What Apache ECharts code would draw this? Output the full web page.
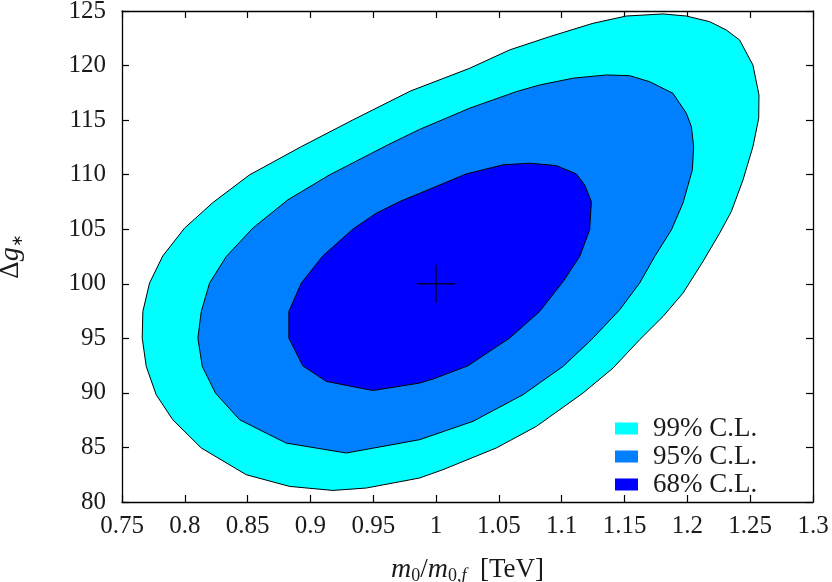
<!DOCTYPE html>
<html>
<head>
<meta charset="utf-8">
<script src="https://cdn.jsdelivr.net/npm/echarts@6/dist/echarts.min.js"></script>
<style>html,body{margin:0;padding:0;background:#fff}#c{width:832px;height:582px}</style>
</head>
<body>
<div id="c"></div>
<script>
// Contour boundaries (x = m0/m0,f, y = Δg*)
const cl99X = [0.9797,0.9338,0.8927,0.8515,0.8223,0.7998,0.7825,0.7719,0.7666,0.7661,0.7693,0.7772,0.7904,0.8131,0.8489,0.8834,0.9178,0.9444,0.9869,1.0054,1.0479,1.0798,1.1169,1.1408,1.1620,1.1806,1.1965,1.2124,1.2257,1.2350,1.2443,1.2522,1.2568,1.2570,1.2522,1.2416,1.2310,1.2178,1.1992,1.1806,1.1514,1.1248,1.0904,1.0585,1.0267];
const cl99Y = [117.67,115.02,112.57,109.98,107.44,105.10,102.56,100.06,97.46,95.02,92.42,89.83,87.54,84.95,82.50,81.43,81.06,81.28,82.20,82.96,84.95,86.93,89.98,92.27,94.87,97.00,99.14,102.04,104.64,106.62,109.52,112.57,115.17,117.31,120.05,122.34,123.26,124.02,124.54,124.73,124.54,123.87,122.65,121.43,119.75];

const cl95X = [0.9869,0.9616,0.9152,0.8820,0.8541,0.8330,0.8197,0.8131,0.8104,0.8139,0.8244,0.8436,0.8650,0.8807,0.9285,0.9869,1.0293,1.0691,1.1010,1.1236,1.1461,1.1620,1.1740,1.1873,1.1965,1.2040,1.2050,1.2032,1.1992,1.1885,1.1700,1.1541,1.1355,1.1089,1.0824,1.0639,1.0267];
const cl95Y = [114.15,112.73,109.98,107.69,105.10,102.50,100.06,97.46,95.02,92.42,89.98,87.54,86.30,85.40,84.49,85.71,87.39,89.83,92.42,94.87,97.61,100.06,102.50,104.94,107.39,110.44,112.57,114.40,115.63,117.46,118.52,119.07,119.14,118.84,118.22,117.61,116.09];

const cl68X = [0.9869,0.9709,0.9524,0.9338,0.9099,0.8927,0.8828,0.8828,0.8939,0.9126,0.9497,0.9869,0.9975,1.0253,1.0585,1.0824,1.1010,1.1143,1.1222,1.1236,1.1182,1.1116,1.0957,1.0744,1.0532,1.0240];
const cl68Y = [108.29,107.53,106.47,105.01,102.56,100.06,97.46,95.02,92.48,91.05,90.22,90.90,91.27,92.48,95.02,97.46,100.18,102.50,104.94,107.53,109.06,110.07,110.83,111.05,110.90,110.07];

const bestFit = [[1.0, 100]];
const xTicks = {min: 0.75, max: 1.3, interval: 0.05};
const yTicks = {min: 80, max: 125, interval: 5};
const levelNames = ['99% C.L.', '95% C.L.', '68% C.L.'];
const levelColors = ['#00FFFF', '#0080FF', '#0000FF'];

const FONT = 'Liberation Serif';
const TXT = '#1a1a1a';

function zip(xs, ys){ return xs.map((x,i)=>[x, ys[i]]); }

function contourSeries(name, color, xs, ys){
  const pts = zip(xs, ys);
  return {
    name: name,
    type: 'custom',
    coordinateSystem: 'cartesian2d',
    data: pts,
    itemStyle: {color: color},
    silent: true,
    animation: false,
    renderItem: function(params, api){
      if (params.dataIndex !== 0) return null;
      const poly = pts.map(p => api.coord(p));
      return {
        type: 'polygon',
        shape: {points: poly},
        style: {fill: color, stroke: '#000', lineWidth: 1}
      };
    }
  };
}

const chart = echarts.init(document.getElementById('c'), null, {renderer: 'canvas'});

const axisLineStyle = {color: '#000', width: 1.3};
const tickStyle = {show: true, inside: true, length: 7, lineStyle: {color: '#000', width: 1.2}};
const labelStyle = {fontFamily: FONT, fontSize: 25, color: TXT};
const fmt = v => String(parseFloat(Number(v).toFixed(2)));

chart.setOption({
  animation: false,
  backgroundColor: '#fff',
  grid: {left: 122, right: 19, top: 11, bottom: 80, containLabel: false, outerBoundsMode: 'none'},
  legend: {
    orient: 'vertical',
    left: 610,
    top: 410,
    data: levelNames.map(n => ({name: n, icon: 'rect'})),
    itemWidth: 23,
    itemHeight: 12,
    itemGap: 1,
    itemStyle: {borderWidth: 0},
    textStyle: {fontFamily: FONT, fontSize: 27, color: TXT, lineHeight: 26, padding: [0,0,0,10]},
    selectedMode: false
  },
  xAxis: [
    {
      type: 'value', position: 'bottom', min: xTicks.min, max: xTicks.max, interval: xTicks.interval,
      axisLine: {show: true, lineStyle: axisLineStyle},
      axisTick: tickStyle,
      axisLabel: Object.assign({margin: 12, formatter: fmt}, labelStyle),
      splitLine: {show: false},
      name: '{i|m}{s|0}{n|/}{i|m}{s|0,}{si|f}{n|  [TeV]}',
      nameLocation: 'middle',
      nameGap: 53,
      nameTextStyle: {
        fontFamily: FONT, fontSize: 27, color: TXT,
        rich: {
          n: {fontFamily: FONT, fontSize: 27, color: TXT, lineHeight: 30},
          i: {fontFamily: FONT, fontStyle: 'italic', fontSize: 28, color: TXT, lineHeight: 30},
          s: {fontFamily: FONT, fontSize: 18, color: TXT, verticalAlign: 'bottom', lineHeight: 17},
          si: {fontFamily: FONT, fontStyle: 'italic', fontSize: 18, color: TXT, verticalAlign: 'bottom', lineHeight: 17}
        }
      }
    },
    {
      type: 'value', position: 'top', min: xTicks.min, max: xTicks.max, interval: xTicks.interval,
      axisLine: {show: true, lineStyle: axisLineStyle},
      axisTick: tickStyle,
      axisLabel: {show: false},
      splitLine: {show: false}
    }
  ],
  yAxis: [
    {
      type: 'value', position: 'left', min: yTicks.min, max: yTicks.max, interval: yTicks.interval,
      axisLine: {show: true, lineStyle: axisLineStyle},
      axisTick: tickStyle,
      axisLabel: Object.assign({margin: 16}, labelStyle),
      splitLine: {show: false},
      name: '{n|Δ}{i|g}{s|∗}',
      nameLocation: 'middle',
      nameRotate: 90,
      nameGap: 96,
      nameTextStyle: {
        fontFamily: FONT, fontSize: 27, color: TXT, lineHeight: 30,
        rich: {
          n: {fontFamily: FONT, fontSize: 27, color: TXT, lineHeight: 30},
          i: {fontFamily: FONT, fontStyle: 'italic', fontSize: 28, color: TXT, lineHeight: 30},
          s: {fontFamily: FONT, fontSize: 15, color: TXT, verticalAlign: 'bottom', lineHeight: 18}
        }
      }
    },
    {
      type: 'value', position: 'right', min: yTicks.min, max: yTicks.max, interval: yTicks.interval,
      axisLine: {show: true, lineStyle: axisLineStyle},
      axisTick: tickStyle,
      axisLabel: {show: false},
      splitLine: {show: false}
    }
  ],
  series: [
    contourSeries(levelNames[0], levelColors[0], cl99X, cl99Y),
    contourSeries(levelNames[1], levelColors[1], cl95X, cl95Y),
    contourSeries(levelNames[2], levelColors[2], cl68X, cl68Y),
    {
      name: 'best fit',
      type: 'scatter',
      data: bestFit,
      symbol: 'path://M0,18.3h38v1.4h-38z M18.3,0h1.4v38h-1.4z',
      symbolSize: [38, 38],
      itemStyle: {color: '#000'},
      silent: true,
      z: 10
    }
  ]
});
</script>
</body>
</html>
